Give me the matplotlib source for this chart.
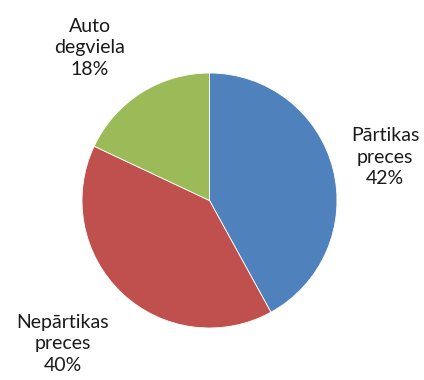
import matplotlib
matplotlib.use("Agg")
import matplotlib.pyplot as plt

labels = ["Pārtikas\npreces", "Nepārtikas\npreces", "Auto\ndegviela"]
shares = [42, 40, 18]
colors = ["#4F81BD", "#C0504D", "#9BBB59"]

# label block centres in pixels (image coords, y from top)
label_pos = [(385, 157), (63, 344), (90, 48)]

W, H = 424, 380
fig = plt.figure(figsize=(W / 100, H / 100), dpi=100)
ax = fig.add_axes([0, 0, 1, 1])

ax.pie(shares, colors=colors, startangle=90, counterclock=False,
       center=(209.5, H - 200.5), radius=127.5, frame=True,
       wedgeprops=dict(edgecolor="white", linewidth=0.6))
ax.set_xlim(0, W)
ax.set_ylim(0, H)
ax.axis("off")

for lab, val, (x, y) in zip(labels, shares, label_pos):
    ax.text(x, H - y, "%s\n%d%%" % (lab, val), ha="center", va="center",
            fontsize=14, family="Lato", color="#1a1a1a", linespacing=1.35)

fig.savefig("out.png", dpi=100)
